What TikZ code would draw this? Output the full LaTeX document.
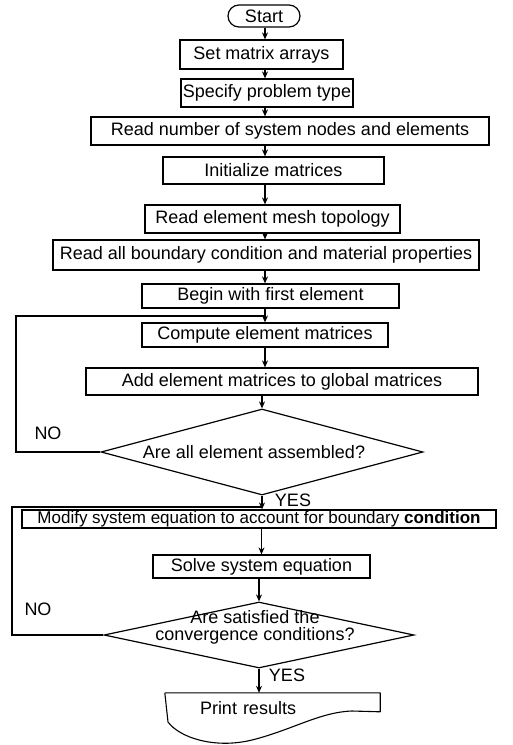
\documentclass[tikz,border=0pt]{standalone}
\usepackage{fontspec}
\setmainfont{Liberation Sans}
\usepackage{tikz}
\usetikzlibrary{shapes.geometric,arrows.meta}

\tikzset{
  txt/.style={font=\fontsize{18}{17}\selectfont, inner sep=0pt},
  box/.style={txt, draw, line width=1.2pt},
  term/.style={box, rounded corners=11pt},
  decision/.style={draw, diamond, line width=1.2pt, inner sep=0pt},
  flow/.style={line width=1.1pt},
  arr/.style={flow, -{Stealth[length=7pt,width=6pt]}}
}

\begin{document}
\begin{tikzpicture}[x=1pt, y=-1pt]
        \useasboundingbox (0,0) rectangle (513,745);
        \coordinate (spine) at (265,0);

        \node[term, minimum width=72pt, minimum height=22pt] (start) at (264,16) {Start};
        \node[box, minimum width=163pt, minimum height=29pt] (set) at (261.5,54.5) {Set matrix arrays};
        \node[box, minimum width=172pt, minimum height=28pt] (spec) at (267,93) {Specify problem type};
        \node[box, minimum width=398pt, minimum height=28pt] (readnum) at (290,131) {Read number of system nodes and elements};
        \node[box, minimum width=221pt, minimum height=27pt] (init) at (273.5,170.5) {Initialize matrices};
        \node[box, minimum width=255pt, minimum height=28pt] (mesh) at (272.5,219) {Read element mesh topology};
        \node[box, minimum width=426pt, minimum height=30pt] (bound) at (266,255) {Read all boundary condition and material properties};
        \node[box, minimum width=257pt, minimum height=24pt] (begin) at (270.5,296) {Begin with first element};
        \node[box, minimum width=246pt, minimum height=24pt] (compute) at (265,335) {Compute element matrices};
        \node[box, minimum width=392pt, minimum height=27pt] (add) at (282,381.5) {Add element matrices to global matrices};
        \node[decision, minimum width=322pt, minimum height=86pt,
              label={[txt, xshift=-8pt]center:Are all element assembled?}] (assem) at (262,452) {};
        \node[box, font=\fontsize{17}{17}\selectfont, minimum width=474pt, minimum height=18pt] (modify) at (259,519) {Modify system equation to account for boundary \textbf{condition}};
        \node[box, minimum width=217pt, minimum height=23pt] (solve) at (261.5,566.5) {Solve system equation};
        \node[decision, minimum width=310pt, minimum height=66pt,
              label={[txt, align=center, xshift=-4pt, yshift=8pt]center:{Are satisfied the\\convergence conditions?}}] (conv) at (259,635) {};
        \node[txt, minimum width=215pt, minimum height=30pt, text width=145pt, inner xsep=35pt, align=left] (print) at (272.5,708) {Print results};

        % yes / no
        \node[txt] (no1) at (48,433) {NO};
        \node[txt] (yes1) at (293,500) {YES};
        \node[txt] (no2) at (38,609) {NO};
        \node[txt] (yes2) at (287,675) {YES};

        % main line
        \draw[arr] (start.south -| spine) -- (set.north -| spine);
        \draw[arr] (set.south -| spine) -- (spec.north -| spine);
        \draw[arr] (spec.south -| spine) -- (readnum.north -| spine);
        \draw[arr] (readnum.south -| spine) -- (init.north -| spine);
        \draw[arr] (init.south -| spine) -- (mesh.north -| spine);
        \draw[arr] (mesh.south -| spine) -- (bound.north -| spine);
        \draw[arr] (bound.south -| spine) -- (begin.north -| spine);
        \draw[arr] (begin.south -| spine) -- (compute.north -| spine);
        \draw[arr] (compute.south -| spine) -- (add.north -| spine);
        \draw[arr] (add.south -| assem.north) -- (assem.north);
        \draw[arr] (assem.south) -- (assem.south |- modify.north);
        \draw[arr] (modify.south -| solve.north) -- (solve.north);
        \draw[arr] (solve.south -| conv.north) -- (conv.north);
        \draw[arr] (conv.south) -- (conv.south |- print.north);

        % loops back
        \coordinate (loopa) at (16,316);
        \draw[flow] (assem.west) -| (loopa) -- (spine |- loopa);
        \coordinate (loopb) at (12,507);
        \draw[flow] (conv.west) -| (loopb) -- (assem.south |- loopb);

        % document outline
        \draw[flow, line join=round] (print.north west) -- (print.north east) -- ++(0,19)
            -- (352,711) .. controls (320,712) and (292,730) .. (252,740)
            .. controls (215,749) and (180,738) .. (168,722) -- (print.north west);
    \end{tikzpicture}
\end{document}
